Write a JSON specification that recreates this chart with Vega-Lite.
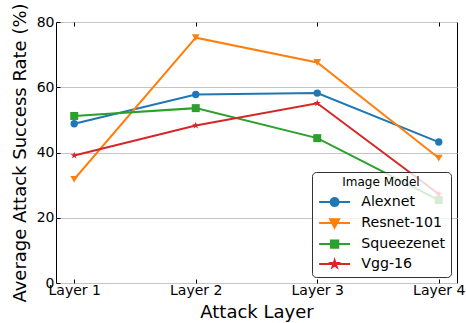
{
  "$schema": "https://vega.github.io/schema/vega-lite/v6.json",
  "width": 401,
  "height": 261,
  "autosize": {"type": "none"},
  "padding": {"left": 56, "top": 22, "right": 9, "bottom": 40},
  "data": {
    "values": [
      {"layer": "Layer 1", "model": "Alexnet", "rate": 48.8},
      {"layer": "Layer 2", "model": "Alexnet", "rate": 57.8},
      {"layer": "Layer 3", "model": "Alexnet", "rate": 58.2},
      {"layer": "Layer 4", "model": "Alexnet", "rate": 43.2},
      {"layer": "Layer 1", "model": "Resnet-101", "rate": 31.8},
      {"layer": "Layer 2", "model": "Resnet-101", "rate": 75.2},
      {"layer": "Layer 3", "model": "Resnet-101", "rate": 67.6},
      {"layer": "Layer 4", "model": "Resnet-101", "rate": 38.3},
      {"layer": "Layer 1", "model": "Squeezenet", "rate": 51.2},
      {"layer": "Layer 2", "model": "Squeezenet", "rate": 53.6},
      {"layer": "Layer 3", "model": "Squeezenet", "rate": 44.4},
      {"layer": "Layer 4", "model": "Squeezenet", "rate": 25.4},
      {"layer": "Layer 1", "model": "Vgg-16", "rate": 39.1},
      {"layer": "Layer 2", "model": "Vgg-16", "rate": 48.3},
      {"layer": "Layer 3", "model": "Vgg-16", "rate": 55.1},
      {"layer": "Layer 4", "model": "Vgg-16", "rate": 27.3}
    ]
  },
  "config": {
    "font": "DejaVu Sans",
    "view": {"stroke": "black", "strokeWidth": 1},
    "axis": {
      "domain": false,
      "labelColor": "black",
      "titleColor": "black",
      "tickColor": "black",
      "labelFontSize": 14,
      "titleFontSize": 18,
      "titleFontWeight": "normal",
      "tickSize": -4,
      "tickWidth": 1,
      "gridColor": "#c4c4c4",
      "gridWidth": 1.2
    },
    "legend": {"labelColor": "black", "titleColor": "black"}
  },
  "encoding": {
    "x": {
      "field": "layer",
      "type": "ordinal",
      "scale": {"type": "point", "padding": 0.15},
      "axis": null
    },
    "y": {
      "field": "rate",
      "type": "quantitative",
      "scale": {"domain": [0, 80], "nice": false},
      "axis": {
        "title": "Average Attack Success Rate (%)",
        "values": [0, 20, 40, 60, 80],
        "grid": true,
        "labelPadding": 6,
        "titlePadding": 7
      }
    },
    "color": {
      "field": "model",
      "type": "nominal",
      "scale": {
        "domain": ["Alexnet", "Resnet-101", "Squeezenet", "Vgg-16"],
        "range": ["#1f77b4", "#ff7f0e", "#2ca02c", "#d62728"]
      },
      "legend": {
        "title": "Image Model",
        "orient": "bottom-right",
        "offset": 6,
        "padding": 5,
        "cornerRadius": 4,
        "fillColor": "rgba(255,255,255,0.8)",
        "strokeColor": "#333333",
        "titleFontSize": 12,
        "titleFontWeight": "normal",
        "titleAnchor": "middle",
        "titlePadding": 6,
        "labelFontSize": 14.2,
        "labelOffset": 30,
        "symbolSize": 100,
        "rowPadding": 4,
        "symbolStrokeWidth": 2,
        "symbolOpacity": 1,
        "symbolType": {
          "expr": "datum.value === 'Alexnet' ? 'M-1,0H5.2M2.9,0A0.8,0.8,0,1,1,1.3,0A0.8,0.8,0,1,1,2.9,0Z' : datum.value === 'Resnet-101' ? 'M-1,0H5.2M1.2,-0.75L3,-0.75L2.1,0.9Z' : datum.value === 'Squeezenet' ? 'M-1,0H5.2M1.37,-0.73H2.83V0.73H1.37Z' : 'M-1,0H5.2M2.1,-0.75L2.268,-0.232L2.813,-0.232L2.372,0.089L2.541,0.607L2.1,0.287L1.659,0.607L1.828,0.089L1.387,-0.232L1.932,-0.232Z'"
        }
      }
    }
  },
  "layer": [
    {
      "mark": {"type": "line", "strokeWidth": 2},
      "encoding": {
        "x": {
          "field": "layer",
          "type": "ordinal",
          "scale": {"type": "point", "padding": 0.15},
          "axis": {
            "orient": "bottom",
            "title": "Attack Layer",
            "labelAngle": 0,
            "grid": false,
            "labelPadding": 4,
            "titlePadding": 6
          }
        }
      }
    },
    {
      "transform": [{"filter": {"field": "model", "equal": "Alexnet"}}],
      "mark": {"type": "point", "filled": true, "opacity": 1, "size": 55, "shape": "circle"},
      "encoding": {
        "x": {
          "field": "layer",
          "type": "ordinal",
          "scale": {"type": "point", "padding": 0.15},
          "axis": {"orient": "top", "labels": false, "title": null, "grid": false}
        }
      }
    },
    {
      "transform": [{"filter": {"field": "model", "equal": "Resnet-101"}}],
      "mark": {"type": "point", "filled": true, "opacity": 1, "size": 60, "shape": "triangle-down"}
    },
    {
      "transform": [{"filter": {"field": "model", "equal": "Squeezenet"}}],
      "mark": {"type": "point", "filled": true, "opacity": 1, "size": 64, "shape": "square"}
    },
    {
      "transform": [{"filter": {"field": "model", "equal": "Vgg-16"}}],
      "mark": {
        "type": "point",
        "filled": true,
        "opacity": 1,
        "size": 60,
        "shape": "M0,-1L0.2245,-0.309L0.951,-0.309L0.363,0.118L0.588,0.809L0,0.382L-0.588,0.809L-0.363,0.118L-0.951,-0.309L-0.2245,-0.309Z"
      }
    }
  ],
  "resolve": {"axis": {"x": "independent"}}
}
